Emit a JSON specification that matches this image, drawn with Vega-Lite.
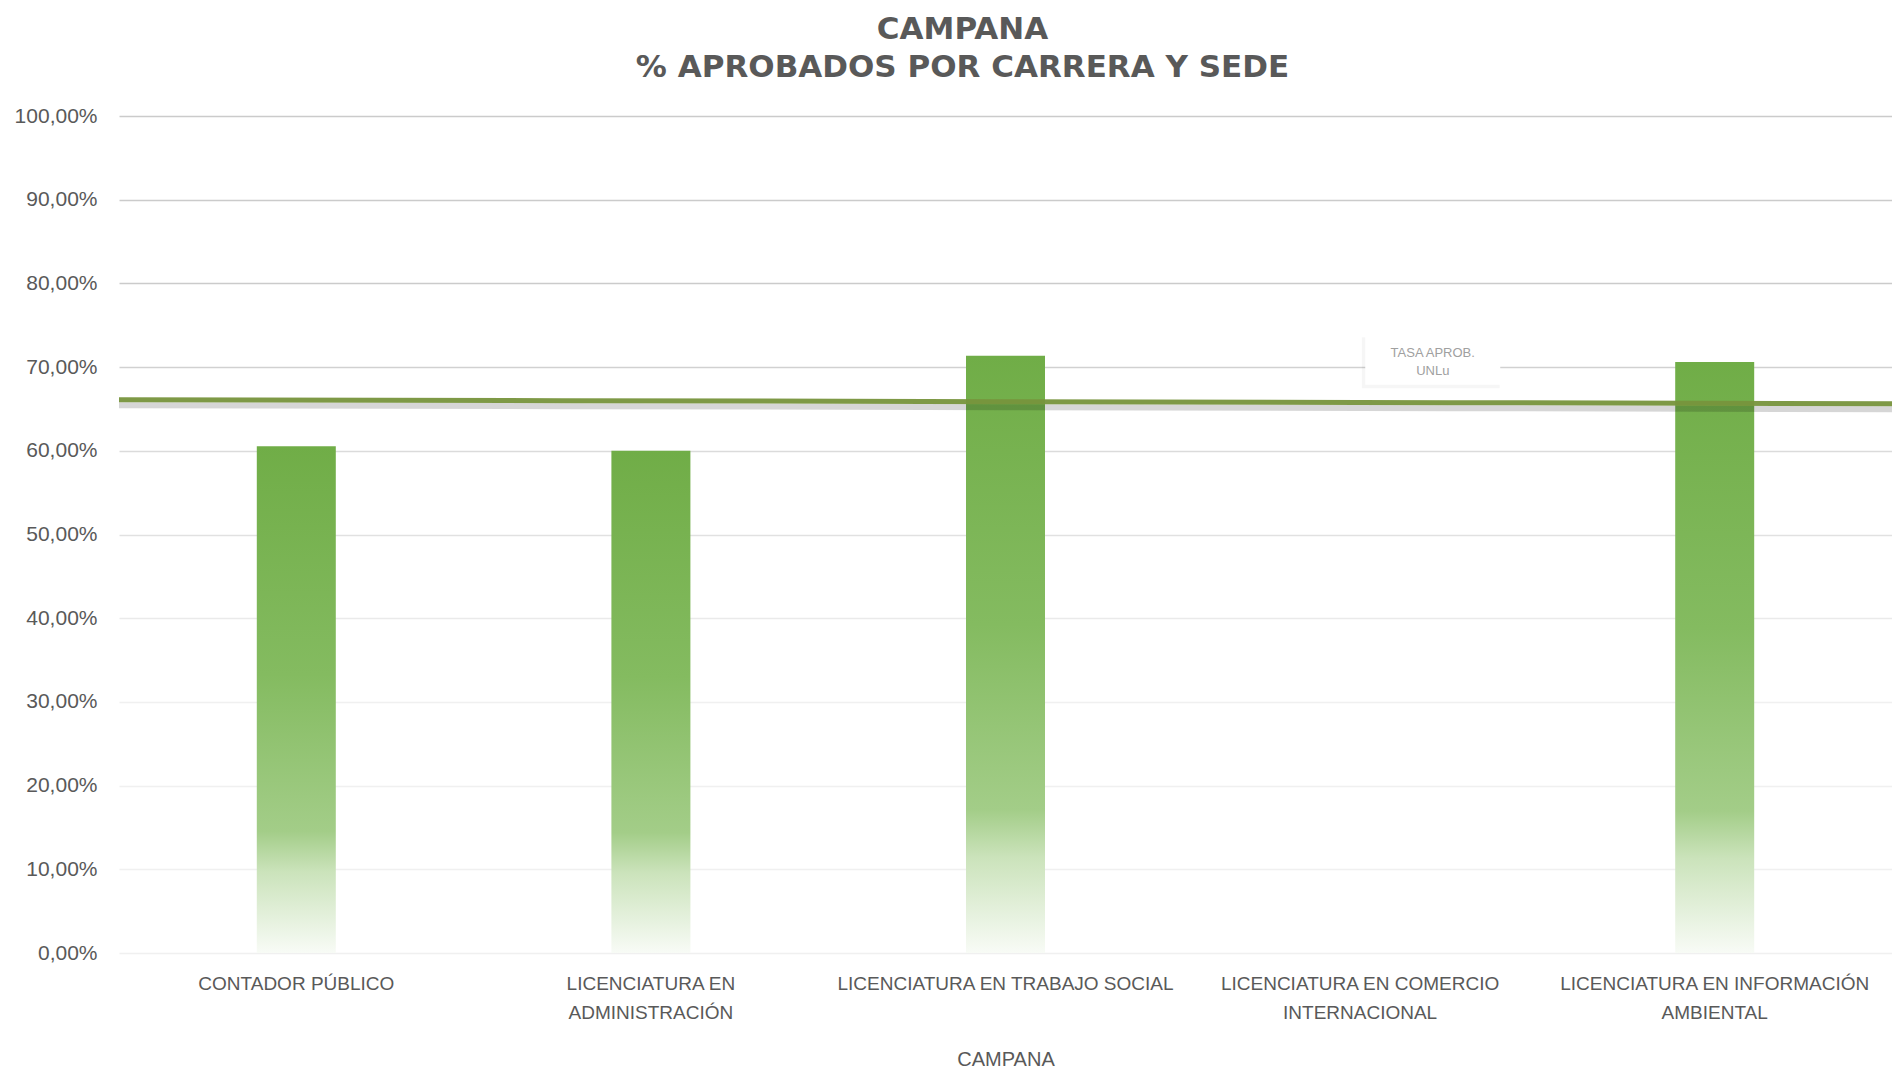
{
  "$schema": "https://vega.github.io/schema/vega-lite/v6.json",
  "width": 1773,
  "height": 837,
  "padding": {"left": 13, "right": 0, "top": 14, "bottom": 0},
  "background": "#ffffff",
  "title": {
    "text": ["CAMPANA", "% APROBADOS POR CARRERA Y SEDE"],
    "font": "DejaVu Sans",
    "fontSize": 31,
    "fontWeight": "bold",
    "color": "#595959",
    "lineHeight": 38,
    "anchor": "middle",
    "frame": "group",
    "dx": -43,
    "offset": 21
  },
  "datasets": {
    "carreras": [
      {"carrera": "CONTADOR PÚBLICO", "porcentaje": 0.6055},
      {"carrera": "LICENCIATURA EN ADMINISTRACIÓN", "porcentaje": 0.6000},
      {"carrera": "LICENCIATURA EN TRABAJO SOCIAL", "porcentaje": 0.7135},
      {"carrera": "LICENCIATURA EN COMERCIO INTERNACIONAL", "porcentaje": 0},
      {"carrera": "LICENCIATURA EN INFORMACIÓN AMBIENTAL", "porcentaje": 0.7060}
    ],
    "tasa": [
      {"serie": "TASA APROB.\nUNLu", "posicion": 0, "porcentaje": 0.6611},
      {"serie": "TASA APROB.\nUNLu", "posicion": 1, "porcentaje": 0.6599},
      {"serie": "TASA APROB.\nUNLu", "posicion": 2, "porcentaje": 0.6587},
      {"serie": "TASA APROB.\nUNLu", "posicion": 3, "porcentaje": 0.6575},
      {"serie": "TASA APROB.\nUNLu", "posicion": 4, "porcentaje": 0.6563}
    ]
  },
  "layer": [
    {
      "data": {"name": "carreras"},
      "mark": {
        "type": "bar",
        "width": 79,
        "fill": {
          "gradient": "linear",
          "x1": 0, "y1": 0, "x2": 0, "y2": 1,
          "stops": [
            {"offset": 0, "color": "#70AD47"},
            {"offset": 0.45, "color": "#84BB60"},
            {"offset": 0.76, "color": "#A3CD88"},
            {"offset": 0.84, "color": "#CBE3BB"},
            {"offset": 1, "color": "#F8FBF6"}
          ]
        }
      },
      "encoding": {
        "x": {
          "field": "carrera",
          "type": "nominal",
          "sort": null,
          "scale": {
            "domain": ["CONTADOR PÚBLICO", "LICENCIATURA EN ADMINISTRACIÓN", "LICENCIATURA EN TRABAJO SOCIAL", "LICENCIATURA EN COMERCIO INTERNACIONAL", "LICENCIATURA EN INFORMACIÓN AMBIENTAL"],
            "paddingInner": 0,
            "paddingOuter": 0
          },
          "axis": {
            "title": "CAMPANA",
            "titleFont": "Liberation Sans",
            "titleFontSize": 20,
            "titleFontWeight": "normal",
            "titleColor": "#595959",
            "titlePadding": 27,
            "labelAngle": 0,
            "labelFont": "Liberation Sans",
            "labelFontSize": 19,
            "labelColor": "#595959",
            "labelLineHeight": 29,
            "labelPadding": 21,
            "labelLimit": 500,
            "ticks": false,
            "domain": false,
            "grid": false,
            "labelExpr": "datum.label == 'LICENCIATURA EN ADMINISTRACIÓN' ? ['LICENCIATURA EN', 'ADMINISTRACIÓN'] : datum.label == 'LICENCIATURA EN COMERCIO INTERNACIONAL' ? ['LICENCIATURA EN COMERCIO', 'INTERNACIONAL'] : datum.label == 'LICENCIATURA EN INFORMACIÓN AMBIENTAL' ? ['LICENCIATURA EN INFORMACIÓN', 'AMBIENTAL'] : datum.label"
          }
        },
        "y": {
          "field": "porcentaje",
          "type": "quantitative",
          "title": null,
          "scale": {"domain": [0, 1], "nice": false, "zero": true},
          "axis": {
            "values": [0, 0.1, 0.2, 0.3, 0.4, 0.5, 0.6, 0.7, 0.8, 0.9, 1],
            "format": ".2%",
            "labelFont": "Liberation Sans",
            "labelFontSize": 21,
            "labelColor": "#595959",
            "labelPadding": 22,
            "ticks": false,
            "domain": false,
            "minExtent": 106,
            "maxExtent": 106,
            "gridWidth": 1.5,
            "gridColor": {
              "condition": [
                {"test": "datum.value >= 0.75", "value": "#CBCBCB"},
                {"test": "datum.value >= 0.65", "value": "#D1D1D1"},
                {"test": "datum.value >= 0.55", "value": "#DBDBDB"},
                {"test": "datum.value >= 0.45", "value": "#E1E1E1"},
                {"test": "datum.value >= 0.35", "value": "#EAEAEA"}
              ],
              "value": "#F0F0F0"
            }
          }
        }
      }
    },
    {
      "data": {"name": "tasa"},
      "mark": {"type": "line", "color": "#000000", "opacity": 0.16, "strokeWidth": 6, "yOffset": 5.5},
      "encoding": {
        "x": {"field": "posicion", "type": "quantitative", "axis": null, "scale": {"domain": [0, 4], "nice": false, "zero": false}},
        "y": {"field": "porcentaje", "type": "quantitative", "title": null}
      }
    },
    {
      "data": {"name": "tasa"},
      "mark": {"type": "line", "color": "#77933C", "strokeWidth": 5, "opacity": 0.95},
      "encoding": {
        "x": {"field": "posicion", "type": "quantitative", "axis": null, "scale": {"domain": [0, 4], "nice": false, "zero": false}},
        "y": {"field": "porcentaje", "type": "quantitative", "title": null}
      }
    },
    {
      "data": {"name": "tasa"},
      "transform": [{"filter": "datum.posicion == 3"}],
      "mark": {"type": "point", "filled": true, "shape": "M-1,-0.37L1,-0.37L1,0.37L-1,0.37Z", "size": 19000, "color": "#000000", "opacity": 0.035, "strokeWidth": 0, "xOffset": -18, "yOffset": -40},
      "encoding": {
        "x": {"field": "posicion", "type": "quantitative", "axis": null, "scale": {"domain": [0, 4], "nice": false, "zero": false}},
        "y": {"field": "porcentaje", "type": "quantitative", "title": null}
      }
    },
    {
      "data": {"name": "tasa"},
      "transform": [{"filter": "datum.posicion == 3"}],
      "mark": {"type": "point", "filled": true, "shape": "M-1,-0.37L1,-0.37L1,0.37L-1,0.37Z", "size": 18225, "color": "#FFFFFF", "opacity": 1, "strokeWidth": 0, "xOffset": -16, "yOffset": -43},
      "encoding": {
        "x": {"field": "posicion", "type": "quantitative", "axis": null, "scale": {"domain": [0, 4], "nice": false, "zero": false}},
        "y": {"field": "porcentaje", "type": "quantitative", "title": null}
      }
    },
    {
      "data": {"name": "tasa"},
      "transform": [{"filter": "datum.posicion == 3"}],
      "mark": {"type": "text", "font": "Liberation Sans", "fontSize": 13, "color": "#A0A0A0", "lineHeight": 18, "lineBreak": "\n", "align": "center", "baseline": "middle", "dx": -16, "dy": -50},
      "encoding": {
        "x": {"field": "posicion", "type": "quantitative", "axis": null, "scale": {"domain": [0, 4], "nice": false, "zero": false}},
        "y": {"field": "porcentaje", "type": "quantitative", "title": null},
        "text": {"field": "serie"}
      }
    }
  ],
  "resolve": {"scale": {"x": "independent"}, "axis": {"x": "independent"}},
  "config": {
    "locale": {"number": {"decimal": ",", "thousands": ".", "grouping": [3], "currency": ["", " €"]}},
    "view": {"stroke": null}
  }
}
